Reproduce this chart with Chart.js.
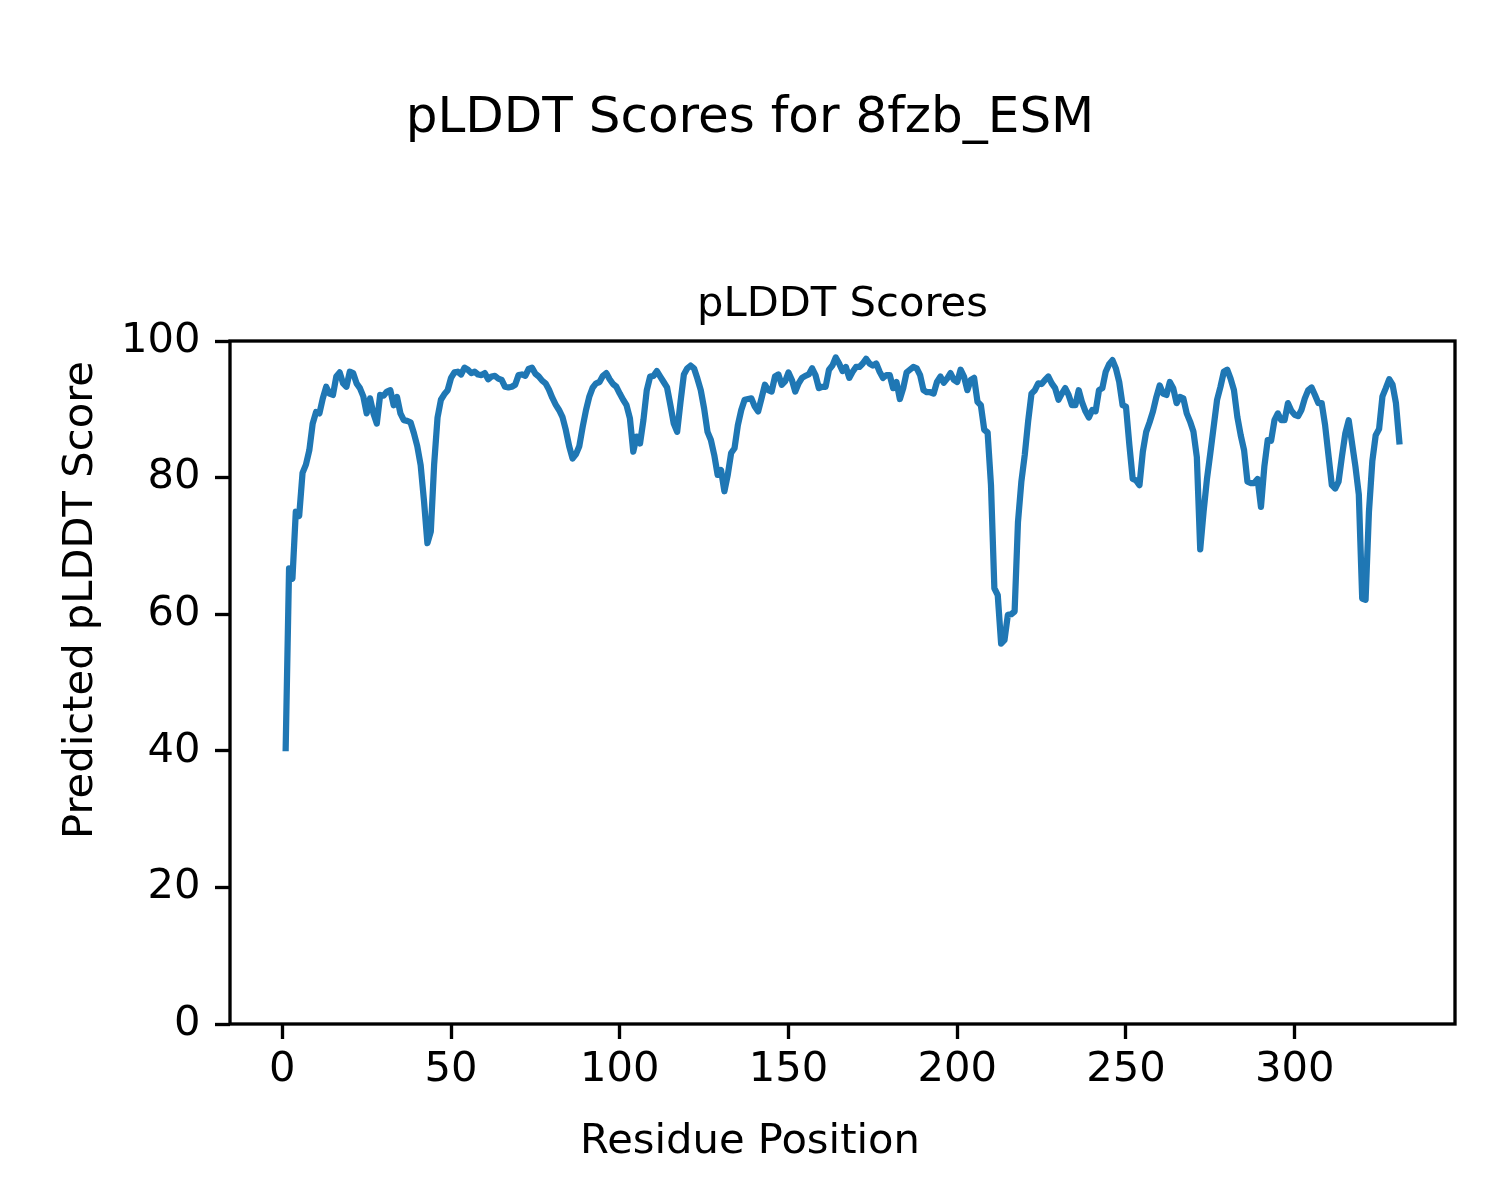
<!DOCTYPE html>
<html>
<head>
<meta charset="utf-8">
<title>pLDDT Scores for 8fzb_ESM</title>
<script src="https://cdn.jsdelivr.net/npm/chart.js@4.4.1/dist/chart.umd.min.js"></script>
<style>
  html, body { margin: 0; padding: 0; background: #fff; }
  canvas { display: block; }
</style>
</head>
<body>
<canvas id="plot" width="1500" height="1200"></canvas>
<script>
const FIG_TITLE = "pLDDT Scores for 8fzb_ESM";
const AX_TITLE = "pLDDT Scores";
const X_LABEL = "Residue Position";
const Y_LABEL = "Predicted pLDDT Score";

// residue numbering starts at 1, one score per residue
const firstResidue = 1;
const plddtScores = [
    40.4, 66.7, 65.2, 75.0, 74.4, 80.7, 81.9, 84.0, 87.9, 89.6,
    89.4, 91.6, 93.3, 92.3, 92.1, 94.8, 95.4, 93.8, 93.3, 95.5,
    95.3, 93.8, 93.1, 91.9, 89.4, 91.6, 89.4, 87.9, 92.1, 92.0,
    92.6, 92.8, 90.6, 91.8, 89.4, 88.4, 88.3, 88.1, 86.5, 84.6,
    81.8, 76.5, 70.4, 72.1, 82.0, 88.8, 91.4, 92.2, 92.8, 94.6,
    95.4, 95.5, 95.1, 96.1, 95.8, 95.3, 95.5, 95.1, 95.0, 95.3,
    94.4, 94.8, 94.9, 94.5, 94.3, 93.3, 93.2, 93.3, 93.6, 95.0,
    95.1, 94.9, 95.9, 96.1, 95.2, 94.8, 94.2, 93.8, 92.9, 91.7,
    90.7, 89.9, 88.9, 87.0, 84.6, 82.8, 83.4, 84.6, 87.4, 89.9,
    91.9, 93.2, 93.8, 94.0, 94.9, 95.3, 94.4, 93.7, 93.3, 92.3,
    91.4, 90.6, 88.7, 83.8, 86.0, 85.0, 88.4, 92.8, 94.8, 94.9,
    95.6, 94.8, 94.0, 93.2, 90.6, 87.9, 86.7, 91.1, 95.1, 96.0,
    96.4, 96.0, 94.5, 92.8, 90.1, 86.7, 85.5, 83.3, 80.4, 81.1,
    78.0, 80.4, 83.6, 84.3, 87.7, 89.9, 91.4, 91.5, 91.6, 90.4,
    89.7, 91.6, 93.6, 92.8, 92.6, 94.8, 95.1, 93.6, 94.1, 95.4,
    94.3, 92.6, 93.8, 94.6, 94.9, 95.1, 96.0, 95.0, 93.1, 93.3,
    93.3, 95.8, 96.4, 97.6, 96.7, 95.6, 96.2, 94.6, 95.5, 96.2,
    96.2, 96.7, 97.4, 96.7, 96.4, 96.7, 95.5, 94.6, 95.0, 95.0,
    93.1, 94.0, 91.5, 93.1, 95.4, 95.8, 96.2, 96.0, 95.0, 92.8,
    92.5, 92.5, 92.3, 94.0, 94.8, 93.9, 94.5, 95.3, 94.3, 94.0,
    95.8, 94.8, 92.8, 94.3, 94.6, 91.1, 90.6, 87.0, 86.6, 78.9,
    63.8, 62.8, 55.7, 56.2, 59.9, 60.0, 60.4, 73.5, 79.4, 83.3,
    88.2, 92.3, 92.8, 93.8, 93.7, 94.3, 94.8, 93.8, 93.1, 91.4,
    92.3, 93.1, 92.1, 90.6, 90.6, 92.8, 91.0, 89.7, 88.8, 89.9,
    89.7, 92.8, 93.1, 95.5, 96.6, 97.2, 96.0, 94.0, 90.6, 90.4,
    84.8, 79.8, 79.6, 78.9, 83.8, 86.7, 88.1, 89.7, 91.8, 93.5,
    92.3, 92.1, 94.0, 93.1, 90.9, 91.8, 91.6, 89.4, 88.2, 86.7,
    83.0, 69.5, 75.0, 79.8, 83.6, 87.5, 91.4, 93.3, 95.5, 95.8,
    94.5, 92.8, 88.9, 86.2, 84.0, 79.4, 79.2, 79.2, 79.8, 75.7,
    81.6, 85.5, 85.4, 88.4, 89.4, 88.4, 88.4, 90.9, 89.8, 89.2,
    89.0, 89.9, 91.6, 92.8, 93.2, 92.1, 90.9, 90.9, 87.7, 83.3,
    78.9, 78.4, 79.4, 83.1, 86.5, 88.4, 85.0, 81.6, 77.5, 62.3,
    62.1, 75.0, 82.4, 86.2, 87.1, 91.9, 93.1, 94.4, 93.6, 90.9,
    85.3
];

const xTicks = [0, 50, 100, 150, 200, 250, 300];
const yTicks = [0, 20, 40, 60, 80, 100];

// matplotlib style 5% margin on the x data range
const lastResidue = firstResidue + plddtScores.length - 1;
const xPad = (lastResidue - firstResidue) * 0.05;

const points = plddtScores.map((s, i) => ({ x: firstResidue + i, y: s }));

Chart.defaults.font.family = "'DejaVu Sans', sans-serif";
Chart.defaults.color = '#000';

const LABEL_SIZE = 41.67;
const SPINE_W = 3.33;

// white page + box round the plot area, like the axes spines
const framePlugin = {
    id: 'frame',
    beforeDraw(chart) {
        const ctx = chart.ctx;
        ctx.save();
        ctx.fillStyle = '#fff';
        ctx.fillRect(0, 0, chart.width, chart.height);
        ctx.restore();
    },
    afterDraw(chart) {
        const { ctx, chartArea: a } = chart;
        ctx.save();
        ctx.strokeStyle = '#000';
        ctx.lineWidth = SPINE_W;
        ctx.strokeRect(a.left, a.top, a.right - a.left, a.bottom - a.top);
        ctx.restore();
    }
};

// x / y labels sit at the figure centre (not the axes centre)
const figLabelPlugin = {
    id: 'figLabels',
    afterDraw(chart) {
        const ctx = chart.ctx;
        ctx.save();
        ctx.fillStyle = '#000';
        ctx.font = LABEL_SIZE + "px 'DejaVu Sans', sans-serif";
        ctx.textAlign = 'center';
        ctx.textBaseline = 'alphabetic';
        ctx.fillText(X_LABEL, chart.width / 2, 1153);
        ctx.translate(92, chart.height / 2);
        ctx.rotate(-Math.PI / 2);
        ctx.fillText(Y_LABEL, 0, 0);
        ctx.restore();
    }
};

const tickGrid = {
    drawOnChartArea: false,
    drawTicks: true,
    tickLength: 15,
    tickWidth: SPINE_W,
    tickColor: '#000'
};

new Chart(document.getElementById('plot'), {
    type: 'line',
    data: {
        datasets: [{
            data: points,
            borderColor: '#1f77b4',
            borderWidth: 6.25,
            borderJoinStyle: 'round',
            borderCapStyle: 'square',
            pointRadius: 0,
            tension: 0,
            fill: false
        }]
    },
    options: {
        responsive: false,
        devicePixelRatio: 1,
        animation: false,
        layout: { padding: 0 },
        plugins: {
            legend: { display: false },
            tooltip: { enabled: false },
            title: {
                display: true,
                text: FIG_TITLE,
                color: '#000',
                font: { size: 50, weight: 'normal' },
                padding: { top: 89, bottom: 0 }
            },
            subtitle: {
                display: true,
                text: AX_TITLE,
                color: '#000',
                fullSize: false,
                font: { size: LABEL_SIZE, weight: 'normal' },
                padding: { top: 131.6, bottom: 10.4 }
            }
        },
        scales: {
            x: {
                type: 'linear',
                min: firstResidue - xPad,
                max: lastResidue + xPad,
                afterBuildTicks: s => { s.ticks = xTicks.map(v => ({ value: v })); },
                afterFit: s => { s.height = 176; },
                grid: tickGrid,
                border: { display: false },
                ticks: {
                    color: '#000',
                    font: { size: LABEL_SIZE },
                    padding: 6.6,
                    maxRotation: 0,
                    autoSkip: false,
                    callback: v => String(v)
                }
            },
            y: {
                min: 0,
                max: 100,
                afterBuildTicks: s => { s.ticks = yTicks.map(v => ({ value: v })); },
                afterFit: s => { s.width = 230; },
                grid: tickGrid,
                border: { display: false },
                ticks: {
                    color: '#000',
                    font: { size: LABEL_SIZE },
                    padding: 14.5,
                    autoSkip: false,
                    callback: v => String(v)
                }
            },
            // empty right-hand strip so the figure title stays centred on the page
            yRight: {
                position: 'right',
                min: 0,
                max: 100,
                grid: { display: false },
                border: { display: false },
                ticks: { display: false },
                afterFit: s => { s.width = 45; }
            }
        }
    },
    plugins: [framePlugin, figLabelPlugin]
});
</script>
</body>
</html>
